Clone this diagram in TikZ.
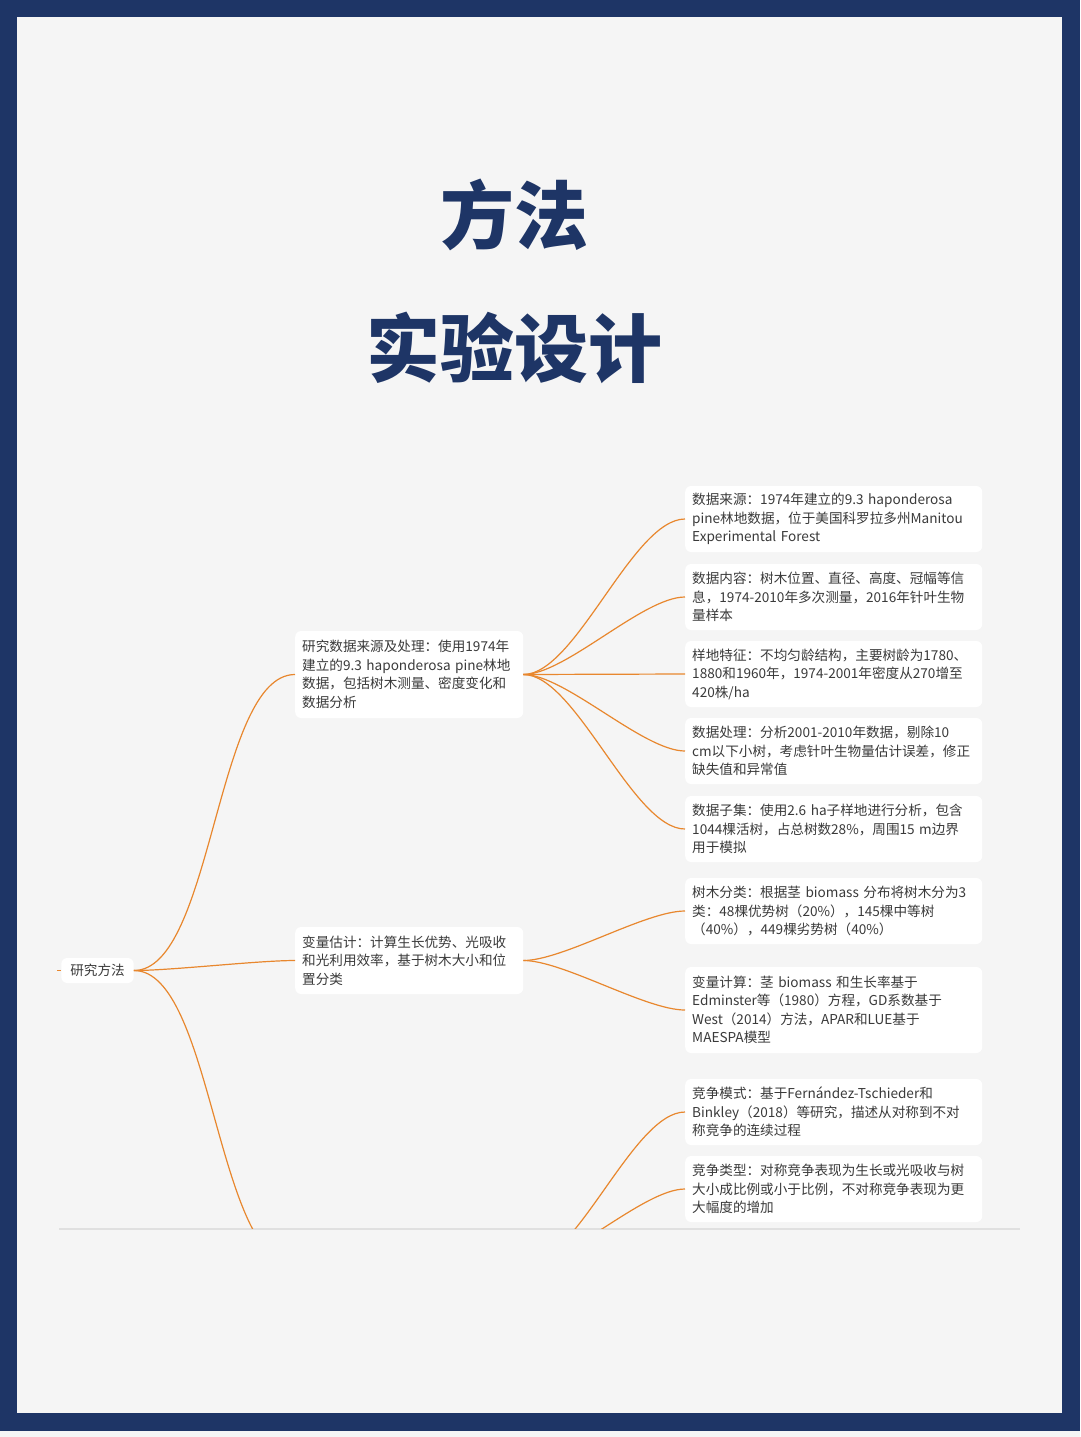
\documentclass[tikz,border=0pt]{standalone}
\usepackage{fontspec}
\setmainfont{Noto Sans CJK SC}
\usepackage{tikz}

\definecolor{framenavy}{HTML}{1E3566}
\definecolor{pagegray}{HTML}{F5F5F5}
\definecolor{mapline}{HTML}{E8872E}
\definecolor{maptext}{HTML}{3A3A3A}

\tikzset{
  topic/.style={fill=white, rounded corners=6pt, text=maptext, align=left,
    anchor=west, inner xsep=7pt, inner ysep=0pt,
    font=\fontsize{13.6pt}{18.5pt}\selectfont},
  leaf/.style={topic, text width=283pt, minimum height=66pt},
  branch/.style={topic, text width=214pt},
  link/.style={draw=mapline, line width=1.2pt},
  spread/.style={out=0, in=180, looseness=0.6},
  headline/.style={text=framenavy, font=\fontsize{74pt}{74pt}\bfseries\selectfont},
}

\begin{document}
\begin{tikzpicture}[x=1pt,y=-1pt]
    \useasboundingbox (0,0) rectangle (1080,1437);
    % frame and page
    \fill[pagegray] (0,0) rectangle (1080,1437);
    \fill[framenavy] (0,0) rectangle (1080,1431);
    \fill[pagegray] (17,17) rectangle (1062,1413);
    \draw[black!12, line width=2pt] (59,1229) -- (1020,1229);

    \node[headline] (title1) at (514,215) {方法};
    \node[headline] (title2) at (514,348) {实验设计};

    % mind map
    \node[topic, anchor=center, inner xsep=9pt, minimum height=25pt] (root) at (97.5,970.5) {研究方法};
    \node[branch, minimum height=87pt] (data) at (295,674.5) {研究数据来源及处理：使用1974年\\建立的9.3 haponderosa pine林地\\数据，包括树木测量、密度变化和\\数据分析};
    \node[branch, minimum height=67pt] (vars) at (295,960.5) {变量估计：计算生长优势、光吸收\\和光利用效率，基于树木大小和位\\置分类};
    \coordinate (compin) at (295,1265);
    \coordinate (compout) at (525,1265);
    \coordinate (stub) at (57,970.5);

    \node[leaf] (src) at (685,519) {数据来源：1974年建立的9.3 haponderosa\\pine林地数据，位于美国科罗拉多州Manitou\\Experimental Forest};
    \node[leaf] (cont) at (685,597) {数据内容：树木位置、直径、高度、冠幅等信\\息，1974-2010年多次测量，2016年针叶生物\\量样本};
    \node[leaf] (plot) at (685,674) {样地特征：不均匀龄结构，主要树龄为1780、\\1880和1960年，1974-2001年密度从270增至\\420株/ha};
    \node[leaf] (proc) at (685,751) {数据处理：分析2001-2010年数据，剔除10\\cm以下小树，考虑针叶生物量估计误差，修正\\缺失值和异常值};
    \node[leaf] (sub) at (685,829) {数据子集：使用2.6 ha子样地进行分析，包含\\1044棵活树，占总树数28\%，周围15 m边界\\用于模拟};
    \node[leaf] (cls) at (685,911) {树木分类：根据茎 biomass 分布将树木分为3\\类：48棵优势树（20\%），145棵中等树\\（40\%），449棵劣势树（40\%）};
    \node[leaf, minimum height=86pt] (calc) at (685,1010) {变量计算：茎 biomass 和生长率基于\\Edminster等（1980）方程，GD系数基于\\West（2014）方法，APAR和LUE基于\\MAESPA模型};
    \node[leaf] (mode) at (685,1112) {竞争模式：基于Fernández-Tschieder和\\Binkley（2018）等研究，描述从对称到不对\\称竞争的连续过程};
    \node[leaf] (kind) at (685,1189) {竞争类型：对称竞争表现为生长或光吸收与树\\大小成比例或小于比例，不对称竞争表现为更\\大幅度的增加};

    \draw[link] (stub) -- (root.west);
    \draw[link] (root.east) to[spread] (data.west);
    \draw[link] (root.east) to[spread] (vars.west);
    \draw[link] (data.east) to[spread] (src.west);
    \draw[link] (data.east) to[spread] (cont.west);
    \draw[link] (data.east) -- (plot.west);
    \draw[link] (data.east) to[spread] (proc.west);
    \draw[link] (data.east) to[spread] (sub.west);
    \draw[link] (vars.east) to[spread] (cls.west);
    \draw[link] (vars.east) to[spread] (calc.west);
    \begin{scope}
      \clip (0,0) rectangle (1080,1228);
      \draw[link] (root.east) to[spread] (compin);
      \draw[link] (compout) to[spread] (mode.west);
      \draw[link] (compout) to[spread] (kind.west);
    \end{scope}
\end{tikzpicture}
\end{document}
